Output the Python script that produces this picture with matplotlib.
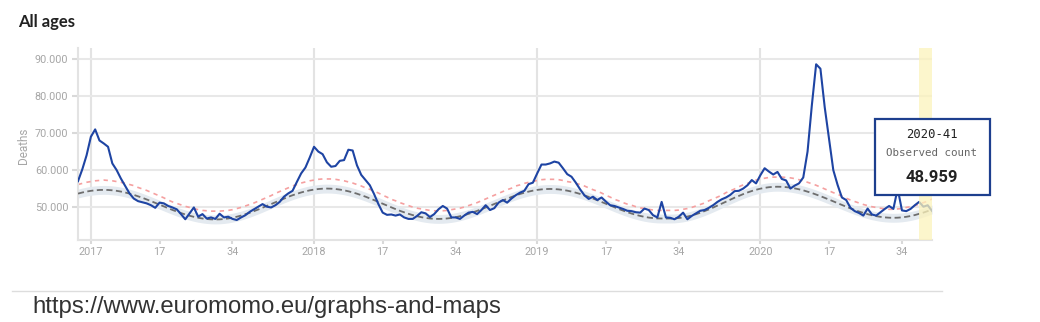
import numpy as np
import matplotlib
matplotlib.use('Agg')
import matplotlib.pyplot as plt
from matplotlib.ticker import FuncFormatter
from matplotlib.patches import Rectangle
from matplotlib.lines import Line2D

plt.rcParams['font.family'] = ['Roboto', 'DejaVu Sans']

# Weekly deaths, all ages, in thousands. First point is 2016-W50, last is 2020-W41.
first_week = -3          # 2016-W50 counted from 2017-W01
observed = [
    57.0, 60.2, 64.0, 69.0, 71.0, 68.0, 67.2, 66.3, 61.8, 60.0,
    57.7, 55.7, 53.7, 52.3, 51.6, 51.3, 51.0, 50.5, 49.8, 51.2,
    51.0, 50.3, 49.9, 49.4, 48.1, 46.7, 48.3, 49.9, 47.4, 48.1,
    46.9, 47.2, 46.8, 48.2, 47.2, 47.4, 46.8, 46.5, 47.2, 47.8,
    48.7, 49.4, 50.1, 50.8, 50.1, 49.9, 50.5, 51.4, 52.8, 53.7,
    54.4, 56.8, 59.1, 60.7, 63.4, 66.3, 65.0, 64.3, 62.1, 60.9,
    61.1, 62.5, 62.7, 65.5, 65.3, 61.3, 58.7, 57.3, 55.9, 53.5,
    50.8, 48.5, 47.9, 48.0, 47.7, 48.0, 47.2, 46.8, 46.8, 47.6,
    48.6, 48.3, 47.3, 48.1, 49.4, 50.3, 49.6, 47.2, 47.2, 46.8,
    47.7, 48.5, 48.7, 48.1, 49.2, 50.5, 49.2, 49.7, 51.2, 51.9,
    51.2, 52.3, 53.2, 53.9, 54.4, 56.2, 56.6, 59.1, 61.5, 61.5,
    61.8, 62.3, 62.0, 60.5, 58.9, 58.2, 56.6, 54.8, 53.2, 52.2,
    52.8, 51.9, 52.6, 51.5, 50.5, 50.3, 49.9, 49.5, 49.0, 48.9,
    48.6, 48.5, 49.6, 49.2, 47.8, 47.2, 51.4, 47.2, 47.1, 46.7,
    47.4, 48.5, 46.7, 47.6, 48.3, 49.0, 49.2, 49.8, 50.5, 51.4,
    52.1, 52.6, 53.3, 54.3, 54.4, 55.0, 55.9, 57.3, 56.4, 58.6,
    60.5, 59.6, 58.8, 59.5, 57.6, 57.2, 55.0, 55.8, 56.4, 58.0,
    65.0, 77.5, 88.6, 87.4, 77.0, 68.5, 60.0, 56.0, 52.6, 51.9,
    49.8, 48.9, 48.4, 47.7, 49.6, 48.0, 47.7, 48.6, 49.5, 50.3,
    49.5, 55.0, 49.1, 48.9, 49.5, 50.5, 51.4, 50.1, 50.5, 48.959,
]
baseline = [
    53.64, 53.94, 54.19, 54.39, 54.53, 54.62, 54.65, 54.62, 54.53, 54.39, 54.19, 53.94, 53.64,
    53.30, 52.92, 52.51, 52.07, 51.61, 51.13, 50.65, 50.17, 49.69, 49.23, 48.79, 48.38, 48.00,
    47.66, 47.36, 47.11, 46.91, 46.77, 46.68, 46.65,
    46.68, 46.77, 46.92, 47.13, 47.39, 47.70, 48.06, 48.45, 48.89, 49.34, 49.83, 50.32, 50.83,
    51.33, 51.82, 52.31, 52.77, 53.20, 53.59, 53.95, 54.26, 54.52, 54.73, 54.88, 54.97, 55.00,
    54.97, 54.88, 54.73, 54.53, 54.27, 53.97, 53.62, 53.23, 52.81, 52.35, 51.88, 51.39, 50.90,
    50.41, 49.92, 49.45, 48.99, 48.57, 48.18, 47.83, 47.53, 47.27, 47.07, 46.92, 46.83, 46.80,
    46.83, 46.92, 47.06, 47.26, 47.52, 47.82, 48.16, 48.55, 48.97, 49.41, 49.88, 50.36, 50.85,
    51.34, 51.82, 52.29, 52.73, 53.15, 53.54, 53.88, 54.18, 54.44, 54.64, 54.78, 54.87, 54.90,
    54.87, 54.78, 54.64, 54.44, 54.19, 53.89, 53.55, 53.17, 52.76, 52.32, 51.86, 51.38, 50.90,
    50.42, 49.94, 49.48, 49.04, 48.63, 48.25, 47.91, 47.61, 47.36, 47.16, 47.02, 46.93, 46.90,
    46.90, 46.90, 46.93, 47.04, 47.20, 47.43, 47.72, 48.07, 48.46, 48.90, 49.37, 49.87, 50.39,
    50.93, 51.47, 52.01, 52.53, 53.03, 53.50, 53.94, 54.34, 54.68, 54.97, 55.20, 55.37, 55.47, 55.50,
    55.47, 55.39, 55.25, 55.05, 54.81, 54.52, 54.18, 53.81, 53.40, 52.96, 52.51, 52.03, 51.54,
    51.06, 50.57, 50.10, 49.64, 49.20, 48.79, 48.42, 48.08, 47.79, 47.55, 47.35, 47.21, 47.13, 47.10,
    47.13, 47.22, 47.37, 47.58, 47.84, 48.16, 48.51, 48.91, 49.35,
]
threshold = [
    56.1, 56.4, 56.7, 56.9, 57.1, 57.2, 57.3, 57.2, 57.1, 56.9, 56.7, 56.4, 56.1,
    55.8, 55.3, 54.9, 54.5, 54.0, 53.5, 53.0, 52.5, 51.9, 51.4, 51.0, 50.6, 50.2,
    49.9, 49.6, 49.3, 49.1, 49.0, 48.9, 48.9,
    48.9, 49.0, 49.1, 49.3, 49.6, 49.9, 50.3, 50.7, 51.1, 51.6, 52.1, 52.6, 53.1,
    53.7, 54.2, 54.7, 55.2, 55.7, 56.1, 56.5, 56.8, 57.1, 57.3, 57.5, 57.6, 57.6,
    57.6, 57.5, 57.3, 57.1, 56.8, 56.5, 56.1, 55.7, 55.2, 54.8, 54.3, 53.8, 53.2,
    52.7, 52.1, 51.7, 51.2, 50.8, 50.4, 50.0, 49.7, 49.5, 49.3, 49.1, 49.0, 49.0,
    49.0, 49.1, 49.3, 49.5, 49.7, 50.0, 50.4, 50.8, 51.2, 51.7, 52.2, 52.7, 53.2,
    53.7, 54.2, 54.7, 55.1, 55.7, 56.0, 56.4, 56.7, 56.9, 57.2, 57.4, 57.5, 57.5,
    57.5, 57.4, 57.2, 56.9, 56.7, 56.4, 56.1, 55.7, 55.2, 54.7, 54.3, 53.8, 53.2,
    52.7, 52.1, 51.7, 51.2, 50.8, 50.5, 50.1, 49.8, 49.6, 49.4, 49.2, 49.1, 49.1,
    49.1, 49.1, 49.1, 49.2, 49.4, 49.6, 49.9, 50.3, 50.7, 51.1, 51.7, 52.2, 52.7,
    53.2, 53.9, 54.4, 54.9, 55.5, 56.0, 56.4, 56.8, 57.3, 57.6, 57.8, 58.0, 58.1, 58.1,
    58.1, 58.0, 57.9, 57.7, 57.4, 57.1, 56.7, 56.3, 55.9, 55.4, 54.9, 54.4, 53.9,
    53.5, 52.9, 52.4, 51.9, 51.5, 51.1, 50.7, 50.4, 50.1, 49.9, 49.7, 49.5, 49.4, 49.4,
    49.5, 49.6, 49.9, 50.1, 50.4, 50.8, 51.2, 51.6, 52.2,
]
band_lo = [
    52.44, 52.74, 52.99, 53.19, 53.33, 53.42, 53.45, 53.42, 53.33, 53.19, 52.99, 52.74, 52.44,
    52.10, 51.72, 51.31, 50.87, 50.41, 49.93, 49.45, 48.97, 48.49, 48.03, 47.59, 47.18, 46.80,
    46.46, 46.16, 45.91, 45.71, 45.57, 45.48, 45.45,
    45.48, 45.57, 45.72, 45.93, 46.19, 46.50, 46.86, 47.25, 47.69, 48.14, 48.63, 49.12, 49.63,
    50.13, 50.62, 51.11, 51.57, 52.00, 52.39, 52.75, 53.06, 53.32, 53.53, 53.68, 53.77, 53.80,
    53.77, 53.68, 53.53, 53.33, 53.07, 52.77, 52.42, 52.03, 51.61, 51.15, 50.68, 50.19, 49.70,
    49.21, 48.72, 48.25, 47.79, 47.37, 46.98, 46.63, 46.33, 46.07, 45.87, 45.72, 45.63, 45.60,
    45.63, 45.72, 45.86, 46.06, 46.32, 46.62, 46.96, 47.35, 47.77, 48.21, 48.68, 49.16, 49.65,
    50.14, 50.62, 51.09, 51.53, 51.95, 52.34, 52.68, 52.98, 53.24, 53.44, 53.58, 53.67, 53.70,
    53.67, 53.58, 53.44, 53.24, 52.99, 52.69, 52.35, 51.97, 51.56, 51.12, 50.66, 50.18, 49.70,
    49.22, 48.74, 48.28, 47.84, 47.43, 47.05, 46.71, 46.41, 46.16, 45.96, 45.82, 45.73, 45.70,
    45.70, 45.70, 45.73, 45.84, 46.00, 46.23, 46.52, 46.87, 47.26, 47.70, 48.17, 48.67, 49.19,
    49.73, 50.27, 50.81, 51.33, 51.83, 52.30, 52.74, 53.14, 53.48, 53.77, 54.00, 54.17, 54.27, 54.30,
    54.27, 54.19, 54.05, 53.85, 53.61, 53.32, 52.98, 52.61, 52.20, 51.76, 51.31, 50.83, 50.34,
    49.86, 49.37, 48.90, 48.44, 48.00, 47.59, 47.22, 46.88, 46.59, 46.35, 46.15, 46.01, 45.93, 45.90,
    45.93, 46.02, 46.17, 46.38, 46.64, 46.96, 47.31, 47.71, 48.15,
]
band_hi = [
    54.84, 55.14, 55.39, 55.59, 55.73, 55.82, 55.85, 55.82, 55.73, 55.59, 55.39, 55.14, 54.84,
    54.50, 54.12, 53.71, 53.27, 52.81, 52.33, 51.85, 51.37, 50.89, 50.43, 49.99, 49.58, 49.20,
    48.86, 48.56, 48.31, 48.11, 47.97, 47.88, 47.85,
    47.88, 47.97, 48.12, 48.33, 48.59, 48.90, 49.26, 49.65, 50.09, 50.54, 51.03, 51.52, 52.03,
    52.53, 53.02, 53.51, 53.97, 54.40, 54.79, 55.15, 55.46, 55.72, 55.93, 56.08, 56.17, 56.20,
    56.17, 56.08, 55.93, 55.73, 55.47, 55.17, 54.82, 54.43, 54.01, 53.55, 53.08, 52.59, 52.10,
    51.61, 51.12, 50.65, 50.19, 49.77, 49.38, 49.03, 48.73, 48.47, 48.27, 48.12, 48.03, 48.00,
    48.03, 48.12, 48.26, 48.46, 48.72, 49.02, 49.36, 49.75, 50.17, 50.61, 51.08, 51.56, 52.05,
    52.54, 53.02, 53.49, 53.93, 54.35, 54.74, 55.08, 55.38, 55.64, 55.84, 55.98, 56.07, 56.10,
    56.07, 55.98, 55.84, 55.64, 55.39, 55.09, 54.75, 54.37, 53.96, 53.52, 53.06, 52.58, 52.10,
    51.62, 51.14, 50.68, 50.24, 49.83, 49.45, 49.11, 48.81, 48.56, 48.36, 48.22, 48.13, 48.10,
    48.10, 48.10, 48.13, 48.24, 48.40, 48.63, 48.92, 49.27, 49.66, 50.10, 50.57, 51.07, 51.59,
    52.13, 52.67, 53.21, 53.73, 54.23, 54.70, 55.14, 55.54, 55.88, 56.17, 56.40, 56.57, 56.67, 56.70,
    56.67, 56.59, 56.45, 56.25, 56.01, 55.72, 55.38, 55.01, 54.60, 54.16, 53.71, 53.23, 52.74,
    52.26, 51.77, 51.30, 50.84, 50.40, 49.99, 49.62, 49.28, 48.99, 48.75, 48.55, 48.41, 48.33, 48.30,
    48.33, 48.42, 48.57, 48.78, 49.04, 49.36, 49.71, 50.11, 50.55,
]

years = ['2017', '2018', '2019', '2020']
mid_weeks = [17, 34]
delay_weeks = 3            # last weeks shaded yellow
tooltip_week = '2020-41'
tooltip_value = 48959

observed = np.array(observed) * 1000
baseline = np.array(baseline) * 1000
threshold = np.array(threshold) * 1000
band_lo = np.array(band_lo) * 1000
band_hi = np.array(band_hi) * 1000
x = np.arange(len(observed)) + first_week

fig = plt.figure(figsize=(10.4, 3.22), dpi=100)
ax = fig.add_axes([78 / 1040, 1 - 240 / 322, 854 / 1040, 192 / 322])

# year gridlines
for i in range(len(years)):
    ax.axvline(52 * i, color='#e3e3e3', lw=1.5, zorder=0)

ax.fill_between(x, band_lo, band_hi, color='#e4eaf0', lw=0, zorder=1)
ax.plot(x, threshold, color='#f5a0a0', lw=1.2, linestyle=(0, (2.6, 2.6)), zorder=2)
ax.plot(x, baseline, color='#6e6e6e', lw=1.3, linestyle=(0, (3.4, 1.9)), zorder=3)
ax.plot(x, observed, color='#1e44a3', lw=1.5, zorder=4, solid_joinstyle='round')

# delay period
ax.axvspan(x[-1] - delay_weeks, x[-1], color='#fcf3bb', alpha=0.75, lw=0, zorder=5)

ax.set_xlim(x[0], x[-1])
ax.set_ylim(41100, 93000)
ax.set_yticks([50000, 60000, 70000, 80000, 90000])
ax.yaxis.set_major_formatter(FuncFormatter(lambda v, p: f"{int(round(v)):,}".replace(',', '.')))

tick_pos, tick_lab = [], []
for i, y in enumerate(years):
    tick_pos.append(52 * i)
    tick_lab.append(y)
    for w in mid_weeks:
        tick_pos.append(52 * i + w - 1)
        tick_lab.append(str(w))
ax.set_xticks(tick_pos)
ax.set_xticklabels(tick_lab)

ax.yaxis.grid(True, color='#e8e8e8', lw=1.5)
ax.xaxis.grid(False)
ax.set_axisbelow(True)
for s in ['top', 'right']:
    ax.spines[s].set_visible(False)
for s in ['left', 'bottom']:
    ax.spines[s].set_color('#e3e3e3')
    ax.spines[s].set_linewidth(1.5)
ax.tick_params(axis='y', length=4, width=1.5, color='#d9d9d9', labelcolor='#a6a6a6', labelsize=7.8, pad=3)
ax.tick_params(axis='x', length=3, width=1.5, color='#d9d9d9', labelcolor='#a6a6a6', labelsize=7.8, pad=2)

fig.text(24 / 1040, 1 - 146 / 322, 'Deaths', rotation=90, ha='center', va='center',
         color='#a6a6a6', fontsize=8.5)
fig.text(18 / 1040, 1 - 22 / 322, 'All ages', ha='left', va='center',
         fontsize=12, fontweight='bold', color='#222222', family=['Lato', 'DejaVu Sans'])

# tooltip
fig.add_artist(Rectangle((875 / 1040, 1 - 195 / 322), 115 / 1040, 76 / 322,
                         transform=fig.transFigure, facecolor='white',
                         edgecolor='#1d3f8e', lw=1.6, zorder=10))
fig.text(932 / 1040, 1 - 135 / 322, tooltip_week, ha='center', va='center', fontsize=8.8,
         color='#222222', family=['DejaVu Sans Mono'], zorder=11)
fig.text(932 / 1040, 1 - 153 / 322, 'Observed count', ha='center', va='center', fontsize=7.8,
         color='#666666', family=['DejaVu Sans Mono'], zorder=11)
fig.text(932 / 1040, 1 - 177 / 322, f"{tooltip_value:,}".replace(',', '.'), ha='center',
         va='center', fontsize=12, fontweight='bold', color='#222222', zorder=11)

# footer
fig.add_artist(Line2D([12 / 1040, 942 / 1040], [1 - 291 / 322, 1 - 291 / 322],
                      transform=fig.transFigure, color='#dddddd', lw=1))
fig.text(32 / 1040, 1 - 313 / 322, 'https://www.euromomo.eu/graphs-and-maps', ha='left',
         va='baseline', fontsize=17.2, color='#333333', family=['Liberation Sans'])

fig.savefig('out.png', dpi=100, facecolor='white')
